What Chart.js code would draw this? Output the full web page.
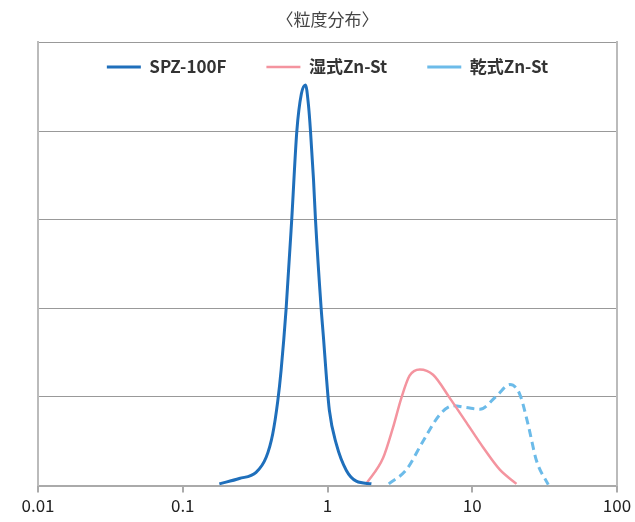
<!DOCTYPE html>
<html>
<head>
<meta charset="utf-8">
<script src="https://cdn.jsdelivr.net/npm/chart.js@4"></script>
<style>
  html, body { margin: 0; padding: 0; background: #fff; }
  #wrap { width: 635px; height: 522px; }
</style>
</head>
<body>
<div id="wrap"><canvas id="psdChart"></canvas></div>
<script>
// particle size (um) / frequency
const spzSize = [0.179, 0.246, 0.321, 0.377, 0.418, 0.453, 0.478, 0.518, 0.566, 0.614, 0.66, 0.705, 0.738, 0.763, 0.80, 0.826, 0.904, 0.938, 0.979, 1.03, 1.15, 1.35, 1.58, 2.01];
const spzFreq = [0.02, 0.08, 0.15, 0.32, 0.58, 0.95, 1.3, 2.0, 3.0, 4.0, 4.42, 4.52, 4.3, 4.0, 3.46, 3.0, 2.0, 1.67, 1.26, 0.85, 0.47, 0.17, 0.05, 0.02];

const wetSize = [1.85, 2.42, 2.83, 3.24, 3.69, 4.34, 5.36, 6.98, 9.12, 11.9, 15.5, 20.2];
const wetFreq = [0.02, 0.31, 0.65, 0.99, 1.24, 1.31, 1.25, 0.99, 0.71, 0.43, 0.18, 0.02];

const drySize = [2.65, 3.51, 4.57, 5.96, 7.36, 9.12, 11.3, 14.7, 18.2, 21.3, 24.3, 27.8, 33.5];
const dryFreq = [0.02, 0.18, 0.5, 0.80, 0.90, 0.88, 0.86, 1.01, 1.14, 1.03, 0.69, 0.28, 0.01];

const seriesNames = ['SPZ-100F', '湿式Zn-St', '乾式Zn-St'];
const xTickValues = [0.01, 0.1, 1, 10, 100];
const xTickLabels = ['0.01', '0.1', '1', '10', '100'];

const toPoints = (xs, ys) => xs.map((x, i) => ({ x: x, y: ys[i] }));

const FONT = "'Noto Sans CJK JP', 'Noto Sans', sans-serif";

// legend sits inside the plot: take no layout height, then nudge it up
const legendInside = {
    id: 'legendInside',
    beforeUpdate(chart) {
        const lg = chart.legend;
        if (!lg || lg._wrapped) return;
        const fit = lg.fit;
        lg.fit = function () {
            fit.call(this);
            this.height = 0;
        };
        lg._wrapped = true;
    },
    afterLayout(chart) {
        const lg = chart.legend;
        if (!lg) return;
        lg.top -= 24;
        lg.bottom = lg.top + 80; // legend clips to its own box
    }
};

new Chart(document.getElementById('psdChart'), {
    type: 'scatter',
    data: {
        datasets: [
            {
                label: seriesNames[0],
                data: toPoints(spzSize, spzFreq),
                borderColor: '#1f6fbb',
                backgroundColor: '#1f6fbb',
                borderWidth: 3,
                showLine: true,
                pointRadius: 0,
                cubicInterpolationMode: 'monotone'
            },
            {
                label: seriesNames[1],
                data: toPoints(wetSize, wetFreq),
                borderColor: '#f4949f',
                backgroundColor: '#f4949f',
                borderWidth: 2.5,
                showLine: true,
                pointRadius: 0,
                cubicInterpolationMode: 'monotone'
            },
            {
                label: seriesNames[2],
                data: toPoints(drySize, dryFreq),
                borderColor: '#6cbbe9',
                backgroundColor: '#6cbbe9',
                borderWidth: 3,
                borderDash: [8, 5],
                showLine: true,
                pointRadius: 0,
                cubicInterpolationMode: 'monotone'
            }
        ]
    },
    options: {
        responsive: true,
        maintainAspectRatio: false,
        animation: false,
        layout: { padding: { left: 38, right: 18, top: 4, bottom: 3 } },
        plugins: {
            title: {
                display: true,
                text: '〈粒度分布〉',
                color: '#444',
                font: { family: FONT, size: 17, weight: 'normal' },
                padding: { top: 5, bottom: 13 }
            },
            legend: {
                position: 'top',
                align: 'center',
                labels: {
                    usePointStyle: true,
                    pointStyle: 'line',
                    pointStyleWidth: 34,
                    padding: 40,
                    color: '#333',
                    font: { family: FONT, size: 17, weight: 'bold' }
                }
            },
            tooltip: { enabled: false }
        },
        scales: {
            x: {
                type: 'logarithmic',
                min: 0.01,
                max: 100,
                afterBuildTicks: (axis) => {
                    axis.ticks = xTickValues.map(v => ({ value: v }));
                },
                ticks: {
                    autoSkip: false,
                    maxRotation: 0,
                    color: '#222',
                    padding: 3,
                    font: { family: FONT, size: 17 },
                    callback: (v, i) => xTickLabels[i]
                },
                grid: {
                    drawOnChartArea: false,
                    tickLength: 7,
                    color: '#aaa',
                    lineWidth: 2
                },
                border: { color: '#aaa', width: 2 }
            },
            y: {
                min: 0,
                max: 5,
                ticks: { display: false, stepSize: 1 },
                grid: { color: '#999', lineWidth: 1, drawTicks: false },
                border: { color: '#bbb', width: 2 }
            },
            y2: {
                position: 'right',
                min: 0,
                max: 5,
                ticks: { display: false },
                grid: { drawOnChartArea: false, drawTicks: false },
                border: { color: '#bbb', width: 2 }
            }
        }
    },
    plugins: [legendInside]
});
</script>
</body>
</html>
